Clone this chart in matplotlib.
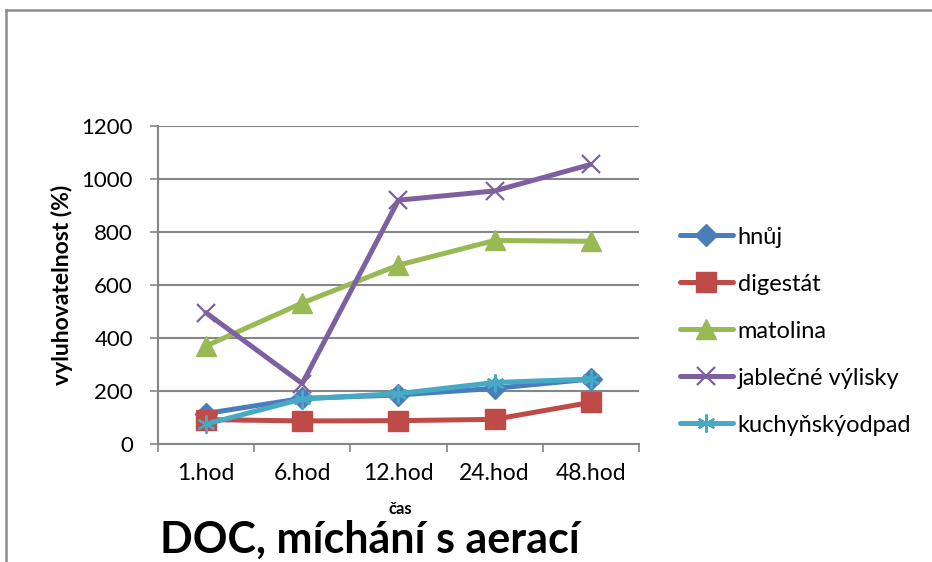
import numpy as np
import matplotlib.pyplot as plt
from matplotlib.lines import Line2D

plt.rcParams['font.family'] = ['Lato', 'DejaVu Sans']

casy = ["1.hod", "6.hod", "12.hod", "24.hod", "48.hod"]
hnuj = [115, 172, 185, 210, 245]
digestat = [92, 87, 88, 93, 157]
matolina = [370, 532, 675, 768, 765]
jablecne = [495, 228, 920, 955, 1055]
kuchynsky = [75, 170, 190, 232, 245]

serie = [
    ("hnůj", hnuj, "#4a7ebb", "D", 11),
    ("digestát", digestat, "#be4b48", "s", 14),
    ("matolina", matolina, "#98b954", "^", 15),
    ("jablečné výlisky", jablecne, "#7d60a0", "x", 13),
    ("kuchyňskýodpad", kuchynsky, "#46aac5", "*", 13),
]

fig = plt.figure(figsize=(9.32, 5.62), dpi=100)
ax = fig.add_axes([0.1695, 0.21, 0.516, 0.5658])

x = np.arange(len(casy))
for nazev, vals, barva, m, ms in serie:
    if m == "*":
        # asterisk-like marker from Excel
        ax.plot(x, vals, color=barva, lw=3.6, label=nazev, marker=(6, 2, 0),
                ms=ms, mew=1.6, mec=barva, solid_capstyle="round")
    elif m == "x":
        ax.plot(x, vals, color=barva, lw=3.6, label=nazev, marker="x",
                ms=ms, mew=1.6, solid_capstyle="round")
    else:
        ax.plot(x, vals, color=barva, lw=3.6, label=nazev, marker=m,
                ms=ms, mec=barva, solid_capstyle="round")

ax.set_xlim(-0.5, len(casy) - 0.5)
ax.set_ylim(0, 1200)
ax.set_yticks(range(0, 1201, 200))
ax.set_xticks(np.arange(-0.5, len(casy), 1.0), minor=False)
ax.set_xticklabels([])
ax.set_xticks(x, minor=True)
ax.set_xticklabels(casy, minor=True)
ax.tick_params(axis="x", which="minor", length=0, labelsize=16.5, pad=14)
ax.tick_params(axis="x", which="major", length=6, width=1.2, color="#868686")
ax.tick_params(axis="y", length=6, width=1.2, color="#868686", labelsize=16,
               pad=12)

ax.grid(axis="y", color="#868686", lw=1.5)
ax.set_axisbelow(True)
for s in ["top", "right"]:
    ax.spines[s].set_visible(False)
for s in ["left", "bottom"]:
    ax.spines[s].set_color("#868686")
    ax.spines[s].set_linewidth(1.5)

ax.set_ylabel("vyluhovatelnost (%)", fontsize=16.5, fontweight="bold", labelpad=6)

ax.legend(loc="center left", bbox_to_anchor=(1.085, 0.355), frameon=False,
          fontsize=17, handlelength=2.25, handletextpad=0.2, labelspacing=1.1,
          borderaxespad=0, borderpad=0)

fig.text(0.43, 0.094, "čas", ha="center", va="center", fontsize=12,
         fontweight="bold")
fig.text(0.397, 0.04, "DOC, míchání s aerací", ha="center", va="center",
         fontsize=31, fontweight="bold")

# border of the chart area
fig.add_artist(Line2D([0.006, 0.006], [0, 0.982], color="#8c8c8c", lw=1.8,
                      transform=fig.transFigure))
fig.add_artist(Line2D([0.006, 1.0], [0.982, 0.982], color="#8c8c8c", lw=1.8,
                      transform=fig.transFigure))

fig.savefig("out.png", dpi=100)
